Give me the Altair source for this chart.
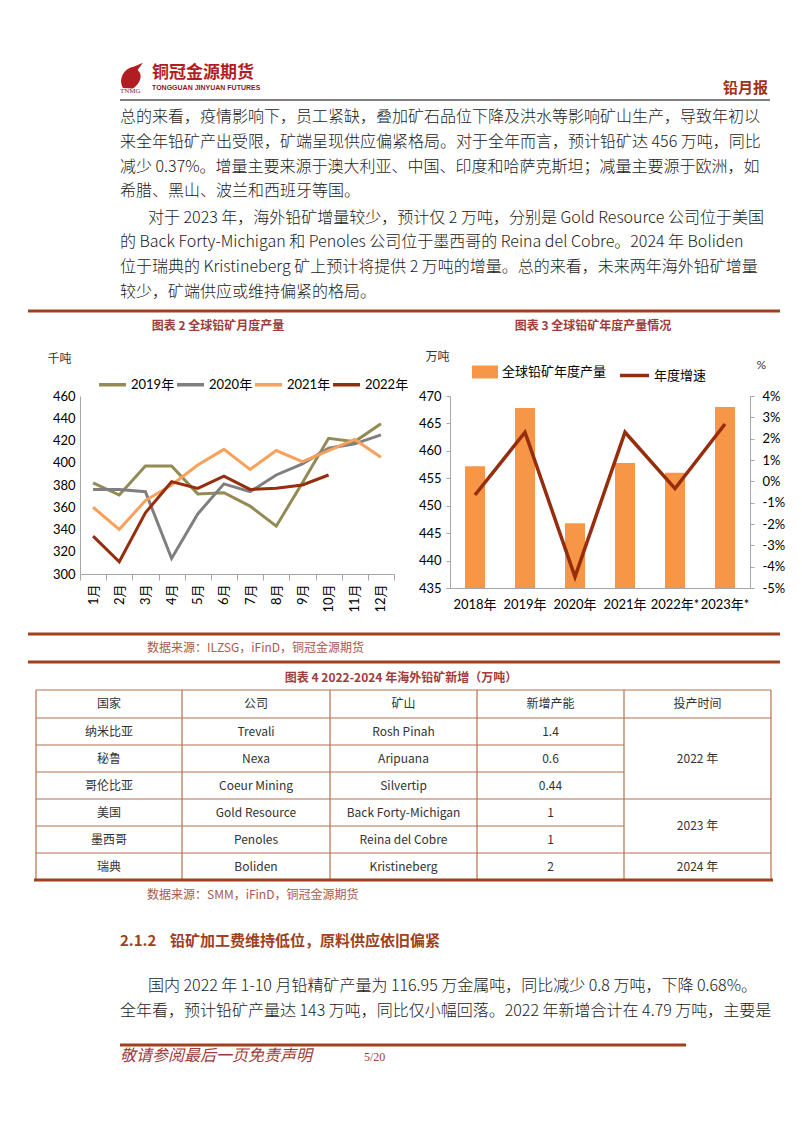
import altair as alt
import pandas as pd

# ---------------- data ----------------
months = [f"{i}月" for i in range(1, 13)]
series = ["2019年", "2020年", "2021年", "2022年"]
v2019 = [382, 371, 397, 397, 372, 373, 361, 343, 382, 422, 419, 435]
v2020 = [376, 376, 374, 314, 354, 381, 374, 389, 399, 413, 417, 425]
v2021 = [360, 340, 366, 380, 398, 412, 394, 411, 401, 411, 421, 405]
v2022 = [334, 311, 355, 383, 377, 388, 376, 377, 380, 389]

years = ["2018年", "2019年", "2020年", "2021年", "2022年*", "2023年*"]
output = [457.2, 467.8, 446.8, 457.8, 456.0, 468.0]
growth = [-0.64, 2.30, -4.48, 2.30, -0.34, 2.69]

tbl_header = ["国家", "公司", "矿山", "新增产能", "投产时间"]
countries = ["纳米比亚", "秘鲁", "哥伦比亚", "美国", "墨西哥", "瑞典"]
companies = ["Trevali", "Nexa", "Coeur Mining", "Gold Resource", "Penoles", "Boliden"]
mines = ["Rosh Pinah", "Aripuana", "Silvertip", "Back Forty-Michigan", "Reina del Cobre", "Kristineberg"]
capacity = ["1.4", "0.6", "0.44", "1", "1", "2"]
start_year = ["2022 年", "2023 年", "2024 年"]
start_span = [3, 2, 1]

para_top = [
    "总的来看，疫情影响下，员工紧缺，叠加矿石品位下降及洪水等影响矿山生产，导致年初以",
    "来全年铅矿产出受限，矿端呈现供应偏紧格局。对于全年而言，预计铅矿达 456 万吨，同比",
    "减少 0.37%。增量主要来源于澳大利亚、中国、印度和哈萨克斯坦；减量主要源于欧洲，如",
    "希腊、黑山、波兰和西班牙等国。",
    "对于 2023 年，海外铅矿增量较少，预计仅 2 万吨，分别是 Gold Resource 公司位于美国",
    "的 Back Forty-Michigan 和 Penoles 公司位于墨西哥的 Reina del Cobre。2024 年 Boliden",
    "位于瑞典的 Kristineberg 矿上预计将提供 2 万吨的增量。总的来看，未来两年海外铅矿增量",
    "较少，矿端供应或维持偏紧的格局。",
]
para_bottom = [
    "国内 2022 年 1-10 月铅精矿产量为 116.95 万金属吨，同比减少 0.8 万吨，下降 0.68%。",
    "全年看，预计铅矿产量达 143 万吨，同比仅小幅回落。2022 年新增合计在 4.79 万吨，主要是",
]

# ---------------- style ----------------
CJK = "Noto Sans CJK SC"
CF = "Lato, Noto Sans CJK SC"
BROWN = "#A0401C"
MAROON = "#A03C3C"
SRC = "#A85A50"
ORANGE = "#F79646"
ORANGE_L = "#F9A05A"
DARK = "#962D0C"
OLIVE = "#948A54"
GREY = "#7F7F7F"
AXIS = "#A6A6A6"
NB = "\u00a0"


def texts(items, ox, oy, **mk):
    df = pd.DataFrame([{"x": x - ox, "y": y - oy, "t": t} for x, y, t in items])
    return alt.Chart(df).mark_text(**mk).encode(
        x=alt.X("x:Q", scale=None, axis=None),
        y=alt.Y("y:Q", scale=None, axis=None),
        text="t:N",
    )


def rules(items, ox, oy, **mk):
    df = pd.DataFrame([{"x": a - ox, "x2": c - ox, "y": b - oy, "y2": d - oy} for a, b, c, d in items])
    return alt.Chart(df).mark_rule(**mk).encode(
        x=alt.X("x:Q", scale=None, axis=None), x2="x2:Q",
        y=alt.Y("y:Q", scale=None, axis=None), y2="y2:Q",
    )


def spacer(w, h=1):
    return alt.Chart(pd.DataFrame({"a": [0]})).mark_point(size=0, opacity=0).encode(
        x=alt.value(w / 2), y=alt.value(20)).properties(width=w, height=h)


# column widths of the page grid (page x: 8 | 80 | 394 | 450 | 750 | 794)
CW = [72, 314, 56, 300, 44]

# ---------------- row A: header + paragraph (overflowing cell at page (8, 8)) ----------------
OXA, OYA = 8, 8
logo_df = pd.DataFrame({"x": [131 - OXA], "y": [76 - OYA]})
logo = alt.Chart(logo_df).mark_point(
    shape="M-0.6,0.9 C-1,0.2 -0.5,-0.6 0.2,-0.7 L0.9,-1 L0.5,-0.45 C0.95,-0.1 0.7,0.6 0.15,0.95 Z",
    filled=True, color="#B01E23", size=700, opacity=1,
).encode(x=alt.X("x:Q", scale=None, axis=None), y=alt.Y("y:Q", scale=None, axis=None))

rowA_layers = [
    logo,
    texts([(152, 73, "铜冠金源期货")], OXA, OYA, align="left", font=CJK, fontSize=17, fontWeight="bold", color="#B01E23"),
    texts([(152, 88, "TONGGUAN JINYUAN FUTURES")], OXA, OYA, align="left", font="Liberation Sans", fontSize=7, fontWeight="bold", color="#8B1A1A"),
    texts([(120, 91, "TNMG")], OXA, OYA, align="left", font="Liberation Serif", fontSize=7, color="#8B1A1A"),
    texts([(768, 88, "铅月报")], OXA, OYA, align="right", font=CJK, fontSize=15, fontWeight="bold", color="#A0301A"),
    rules([(120, 100, 770, 100)], OXA, OYA, color="#555555", strokeWidth=1.5),
    texts([(148 if i == 4 else 120, y, t) for i, (y, t) in enumerate(zip([117, 142, 167, 191, 218, 242, 267, 292], para_top))],
          OXA, OYA, align="left", font=CJK, fontSize=16, fontWeight=300, color="#1a1a1a"),
    rules([(28, 311, 780, 311)], OXA, OYA, color=BROWN, strokeWidth=3),
    texts([(218, 326, "图表 2" + NB + "全球铅矿月度产量"), (593, 326, "图表 3" + NB + "全球铅矿年度产量情况")], OXA, OYA,
          align="center", font=CJK, fontSize=12, fontWeight="bold", color=MAROON),
]
rowA = alt.layer(*rowA_layers).properties(width=CW[0], height=388)

# ---------------- row B: charts ----------------
rows1 = []
for s, vals in zip(series, [v2019, v2020, v2021, v2022]):
    for m, v in zip(months, vals):
        rows1.append({"m": m, "s": s, "v": v})
df1 = pd.DataFrame(rows1)

chart1 = alt.Chart(df1).mark_line(strokeWidth=3).encode(
    x=alt.X("m:N", sort=months, bandPosition=0.5,
            scale=alt.Scale(type="band", paddingInner=0, paddingOuter=0),
            axis=alt.Axis(title=None, labelAngle=-90, tickBand="extent", ticks=True, tickSize=6,
                          tickColor=AXIS, domainColor=AXIS, labelFontSize=13, labelColor="#000000",
                          labelPadding=4, labelFont=CF)),
    y=alt.Y("v:Q", scale=alt.Scale(domain=[300, 460], nice=False, zero=False),
            axis=alt.Axis(values=list(range(300, 461, 20)), title="千吨", titleAngle=0, titleAlign="left",
                          titleBaseline="middle", titleX=-33, titleY=-38, titleFontWeight="normal",
                          titleFontSize=12, titleFont=CJK, titleColor="#333333",
                          grid=False, ticks=False, tickSize=0, domainColor=AXIS, labelFontSize=13,
                          labelColor="#000000", labelPadding=5, labelFont=CF)),
    color=alt.Color("s:N", scale=alt.Scale(domain=series, range=[OLIVE, GREY, ORANGE_L, DARK]),
                    legend=alt.Legend(title=None, orient="none", legendX=17, legendY=-27, direction="horizontal",
                                      columns=4, symbolType="stroke", symbolSize=729, symbolStrokeWidth=3.5,
                                      labelFontSize=13, labelFont=CF, labelColor="#000000",
                                      columnPadding=-10, labelOffset=3)),
).properties(width=CW[1], height=178)

df2 = pd.DataFrame({"yr": years, "out": output, "g": growth})
df2["lab1"] = "全球铅矿年度产量"
df2["lab2"] = "年度增速"

bars = alt.Chart(df2).mark_bar().encode(
    x=alt.X("yr:N", sort=years, scale=alt.Scale(paddingInner=0.6, paddingOuter=0.3),
            axis=alt.Axis(title=None, labelAngle=0, ticks=False, tickSize=0, domainColor=AXIS,
                          labelFontSize=13, labelColor="#000000", labelPadding=10, labelFont=CF)),
    y=alt.Y("out:Q", scale=alt.Scale(domain=[435, 470], nice=False, zero=False),
            axis=alt.Axis(values=list(range(435, 471, 5)), title="万吨", titleAngle=0, titleAlign="left",
                          titleBaseline="middle", titleX=-25, titleY=-40, titleFontWeight="normal",
                          titleFontSize=12, titleFont=CJK, titleColor="#333333",
                          grid=False, ticks=True, tickSize=4, tickColor=AXIS, domainColor=AXIS,
                          labelFontSize=13, labelColor="#000000", labelPadding=5, labelFont=CF)),
    y2=alt.datum(435),
    color=alt.Color("lab1:N", scale=alt.Scale(range=[ORANGE]),
                    legend=alt.Legend(title=None, orient="none", legendX=22, legendY=-37,
                                      symbolType="M-1,-0.5H1V0.5H-1Z", symbolSize=676, symbolStrokeWidth=0,
                                      labelFontSize=13, labelFont=CJK, labelColor="#000000", labelOffset=4)),
)
line2 = alt.Chart(df2).mark_line(strokeWidth=3.5).encode(
    x=alt.X("yr:N", sort=years, bandPosition=0.5),
    y=alt.Y("g:Q", scale=alt.Scale(domain=[-5, 4], nice=False, zero=False),
            axis=alt.Axis(orient="right", values=list(range(-5, 5)), labelExpr="datum.value + '%'",
                          title="%", titleAngle=0, titleAlign="left", titleBaseline="middle",
                          titleX=6, titleY=-32, titleFontWeight="normal", titleFontSize=12,
                          titleFont=CF, titleColor="#333333", grid=False, ticks=True, tickSize=4,
                          tickColor=AXIS, domainColor=AXIS, labelFontSize=13, labelColor="#000000",
                          labelPadding=8, labelFont=CF)),
    stroke=alt.Stroke("lab2:N", scale=alt.Scale(range=[DARK]),
                      legend=alt.Legend(title=None, orient="none", legendX=168, legendY=-37,
                                        symbolType="stroke", symbolSize=841, symbolStrokeWidth=3.5,
                                        labelFontSize=13, labelFont=CJK, labelColor="#000000", labelOffset=3)),
)
chart2 = alt.layer(bars, line2).resolve_scale(
    y="independent", color="independent", stroke="independent").properties(width=CW[3], height=192)

# ---------------- row C: source, table, text, footer (overflowing cell at page (8, 588)) ----------------
OXC, OYC = 8, 588
cols = [36, 182, 330, 477, 624, 771]
centers = [(cols[i] + cols[i + 1]) / 2 for i in range(5)]
row_lines = [690, 718, 745, 772, 799, 826, 853, 880]

tbl_rules = []
tbl_rules.append((cols[0], 690, cols[-1], 690))
tbl_rules.append((cols[0], 718, cols[-1], 718))
for y in [745, 772, 826]:
    tbl_rules.append((cols[0], y, cols[4], y))
for y in [799, 853]:
    tbl_rules.append((cols[0], y, cols[-1], y))
for x in cols:
    tbl_rules.append((x, 690, x, 880))

cell_texts = [(centers[i], 704, h) for i, h in enumerate(tbl_header)]
for r in range(6):
    cy = (row_lines[r + 1] + row_lines[r + 2]) / 2
    for ci, arr in enumerate([countries, companies, mines, capacity]):
        cell_texts.append((centers[ci], cy, arr[r]))
r0 = 0
for label, span in zip(start_year, start_span):
    top = row_lines[1 + r0]
    bot = row_lines[1 + r0 + span]
    cell_texts.append((centers[4], (top + bot) / 2, label))
    r0 += span

rowC_layers = [
    rules([(28, 634, 780, 634), (28, 662, 780, 662)], OXC, OYC, color=BROWN, strokeWidth=3),
    texts([(147, 648, "数据来源：ILZSG，iFinD，铜冠金源期货"), (147, 895, "数据来源：SMM，iFinD，铜冠金源期货")],
          OXC, OYC, align="left", font=CJK, fontSize=12, color=SRC),
    texts([(401, 678, "图表 4" + NB + "2022-2024 年海外铅矿新增（万吨）")], OXC, OYC, align="center", font=CJK,
          fontSize=12, fontWeight="bold", color=MAROON),
    rules(tbl_rules, OXC, OYC, color="#B5714F", strokeWidth=1.2),
    rules([(34, 880, 773, 880)], OXC, OYC, color=BROWN, strokeWidth=3),
    texts(cell_texts, OXC, OYC, align="center", font=CJK, fontSize=12, color="#333333"),
    texts([(120, 941, "2.1.2" + NB + NB + NB + NB + "铅矿加工费维持低位，原料供应依旧偏紧")], OXC, OYC, align="left",
          font=CJK, fontSize=15, fontWeight="bold", color=BROWN),
    texts([(148, 986, para_bottom[0]), (120, 1011, para_bottom[1])], OXC, OYC, align="left", font=CJK,
          fontSize=16, fontWeight=300, color="#1a1a1a"),
    rules([(120, 1045, 686, 1045)], OXC, OYC, color=BROWN, strokeWidth=3),
    texts([(120, 1056, "敬请参阅最后一页免责声明")], OXC, OYC, align="left", font=CJK, fontSize=16,
          fontStyle="italic", color=MAROON),
    texts([(364, 1057, "5/20")], OXC, OYC, align="left", font="Liberation Serif", fontSize=12, color=MAROON),
]
rowC = alt.layer(*rowC_layers).properties(width=CW[0], height=537)

cells = [
    rowA, spacer(CW[1]), spacer(CW[2]), spacer(CW[3]), spacer(CW[4]),
    spacer(CW[0]), chart1, spacer(CW[2]), chart2, spacer(CW[4]),
    rowC, spacer(CW[1]), spacer(CW[2]), spacer(CW[3]), spacer(CW[4]),
]

chart = alt.concat(*cells, columns=5, spacing=0, bounds="flush", align="each").resolve_scale(
    color="independent", stroke="independent").properties(padding=0).configure(
    font=CJK).configure_view(stroke=None, strokeWidth=0)

chart.save("out.html", embed_options={"renderer": "svg", "actions": False})
